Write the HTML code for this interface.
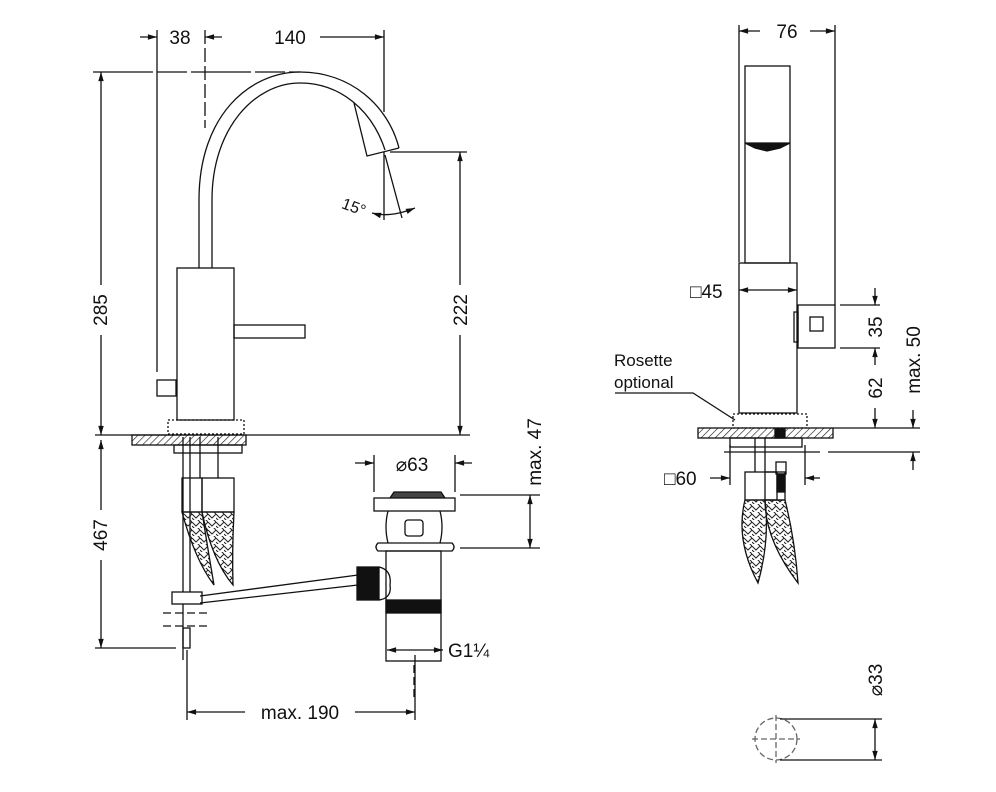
<!DOCTYPE html>
<html><head><meta charset="utf-8"><style>
html,body{margin:0;padding:0;background:#fff}
svg{display:block}
text{font-family:"Liberation Sans",sans-serif;fill:#111}
</style></head><body>
<svg width="996" height="792" viewBox="0 0 996 792" xmlns="http://www.w3.org/2000/svg">
<defs>
<pattern id="h" width="5" height="5" patternUnits="userSpaceOnUse" patternTransform="rotate(45)"><line x1="0" y1="0" x2="0" y2="5" stroke="#222" stroke-width="1.3"/></pattern>
<pattern id="br" width="8" height="8" patternUnits="userSpaceOnUse"><path d="M0 2 L4 6 L8 2 M0 6 L4 10 M4 -2 L8 2" stroke="#222" stroke-width="1" fill="none"/></pattern>
<marker id="a" viewBox="0 0 10 10" refX="10" refY="5" markerWidth="9" markerHeight="7" orient="auto-start-reverse"><path d="M0 2 L10 5 L0 8z" fill="#111"/></marker>
</defs>
<g stroke="#111" stroke-width="1.3" fill="none">
<line x1="140" y1="37" x2="157" y2="37" marker-end="url(#a)"/>
<line x1="222" y1="37" x2="205" y2="37" marker-end="url(#a)"/>
<line x1="320" y1="37" x2="384" y2="37" marker-end="url(#a)"/>
<line x1="157" y1="30" x2="157" y2="372"/>
<line x1="205" y1="30" x2="205" y2="128" stroke-dasharray="14,4"/>
<line x1="384" y1="30" x2="384" y2="112"/>
<line x1="93" y1="72" x2="300" y2="72" stroke-dasharray="60,4,30,4"/>
<line x1="101" y1="72" x2="101" y2="285" marker-start="url(#a)"/>
<line x1="101" y1="335" x2="101" y2="435" marker-end="url(#a)"/>
<line x1="390" y1="152" x2="467" y2="152"/>
<line x1="460" y1="152" x2="460" y2="285" marker-start="url(#a)"/>
<line x1="460" y1="335" x2="460" y2="435" marker-end="url(#a)"/>
<line x1="95" y1="435" x2="470" y2="435"/>
<path d="M199 268 L199 200 C199 115 250 72 300 72 C350 72 388 105 399 148"/>
<path d="M212 268 L212 200 C212 128 255 83 300 83 C340 83 372 110 385 150"/>
<path d="M354 103 L367 156 L399 148"/>
<line x1="384" y1="152" x2="384" y2="220"/>
<line x1="385" y1="155" x2="402" y2="218"/>
<path d="M372 213 Q390 218 415 208" marker-start="url(#a)" marker-end="url(#a)"/>
<rect x="177" y="268" width="57" height="152"/>
<rect x="234" y="325" width="71" height="13"/>
<rect x="157" y="380" width="19" height="16"/>
<rect x="168" y="420" width="76" height="14" stroke-dasharray="2,2"/>
<rect x="132" y="435" width="114" height="10" fill="url(#h)"/>
<rect x="174" y="445" width="68" height="8"/>
<line x1="183" y1="437" x2="183" y2="660"/><line x1="190" y1="437" x2="190" y2="600"/>
<line x1="200" y1="437" x2="200" y2="478"/><line x1="218" y1="437" x2="218" y2="478"/>
<rect x="182" y="478" width="20" height="34"/><rect x="202" y="478" width="32" height="34"/>
<path d="M182 512 L202 512 Q208 550 214 585 Q195 560 182 512z" fill="url(#br)"/>
<path d="M202 512 L234 512 Q232 550 233 585 Q212 560 202 512z" fill="url(#br)"/>
<rect x="172" y="592" width="30" height="12" fill="#fff"/>
<line x1="200" y1="596" x2="358" y2="575"/><line x1="200" y1="603" x2="358" y2="585"/>
<line x1="163" y1="613" x2="210" y2="613" stroke-dasharray="8,4"/>
<line x1="163" y1="626" x2="210" y2="626" stroke-dasharray="8,4"/>
<rect x="183" y="628" width="7" height="20"/>
<line x1="101" y1="440" x2="101" y2="510" marker-start="url(#a)"/>
<line x1="101" y1="560" x2="101" y2="648" marker-end="url(#a)"/>
<line x1="95" y1="648" x2="176" y2="648"/>
<line x1="187" y1="650" x2="187" y2="720"/>
<line x1="415" y1="655" x2="415" y2="720"/>
<line x1="187" y1="712" x2="245" y2="712" marker-start="url(#a)"/>
<line x1="355" y1="712" x2="415" y2="712" marker-end="url(#a)"/>
<line x1="355" y1="463" x2="374" y2="463" marker-end="url(#a)"/>
<line x1="472" y1="463" x2="455" y2="463" marker-end="url(#a)"/>
<line x1="374" y1="455" x2="374" y2="492"/><line x1="455" y1="455" x2="455" y2="492"/>
<path d="M390 498 L394 492 L441 492 L445 498" fill="#444"/>
<rect x="374" y="498" width="81" height="13"/>
<path d="M388 511 Q384 527 388 543 M440 511 Q444 527 440 543"/>
<rect x="405" y="520" width="18" height="16" rx="3"/>
<path d="M378 543 L452 543 Q456 547 452 551 L378 551 Q374 547 378 543z"/>
<rect x="386" y="551" width="55" height="110"/>
<rect x="386" y="600" width="55" height="13" fill="#111"/>
<rect x="357" y="567" width="22" height="33" fill="#111"/>
<path d="M379 567 Q392 570 390 585 Q392 598 379 600"/>
<line x1="460" y1="495" x2="540" y2="495"/><line x1="460" y1="548" x2="540" y2="548"/>
<line x1="530" y1="495" x2="530" y2="548" marker-start="url(#a)" marker-end="url(#a)"/>
<line x1="387" y1="650" x2="443" y2="650" marker-start="url(#a)" marker-end="url(#a)"/>
<line x1="414" y1="665" x2="414" y2="700" stroke-dasharray="8,4"/>
<line x1="739" y1="25" x2="739" y2="262"/><line x1="835" y1="25" x2="835" y2="305"/>
<line x1="739" y1="31" x2="760" y2="31" marker-start="url(#a)"/>
<line x1="810" y1="31" x2="835" y2="31" marker-end="url(#a)"/>
<rect x="745" y="66" width="45" height="197"/>
<path d="M745 143 L790 143 L780 148 L767 151 L755 148z" fill="#111"/>
<rect x="739" y="263" width="58" height="150"/>
<line x1="739" y1="290" x2="797" y2="290" marker-start="url(#a)" marker-end="url(#a)"/>
<rect x="798" y="305" width="37" height="43"/><rect x="810" y="317" width="13" height="14"/>
<rect x="794" y="312" width="4" height="30"/>
<line x1="840" y1="305" x2="880" y2="305"/><line x1="840" y1="348" x2="880" y2="348"/>
<line x1="875" y1="288" x2="875" y2="305" marker-end="url(#a)"/>
<line x1="875" y1="365" x2="875" y2="348" marker-end="url(#a)"/>
<line x1="875" y1="408" x2="875" y2="428" marker-end="url(#a)"/>
<line x1="913" y1="410" x2="913" y2="428" marker-end="url(#a)"/>
<line x1="913" y1="470" x2="913" y2="452" marker-end="url(#a)"/>
<rect x="733" y="414" width="74" height="14" stroke-dasharray="2,2"/>
<rect x="698" y="428" width="135" height="10" fill="url(#h)"/>
<line x1="833" y1="428" x2="920" y2="428"/>
<line x1="724" y1="452" x2="820" y2="452"/><line x1="828" y1="452" x2="920" y2="452"/>
<rect x="730" y="438" width="72" height="9"/>
<rect x="775" y="429" width="10" height="9" fill="#111"/>
<line x1="730" y1="445" x2="730" y2="485"/><line x1="805" y1="445" x2="805" y2="485"/>
<line x1="710" y1="478" x2="730" y2="478" marker-end="url(#a)"/>
<line x1="820" y1="478" x2="805" y2="478" marker-end="url(#a)"/>
<line x1="755" y1="438" x2="755" y2="472"/><line x1="765" y1="438" x2="765" y2="472"/>
<rect x="776" y="462" width="10" height="12"/><rect x="777" y="474" width="8" height="18" fill="#111"/>
<rect x="745" y="472" width="32" height="28"/><rect x="765" y="472" width="20" height="28"/>
<path d="M745 500 L765 500 Q770 540 758 583 Q735 540 745 500z" fill="url(#br)"/>
<path d="M765 500 L785 500 Q795 540 798 583 Q765 540 765 500z" fill="url(#br)"/>
<path d="M615 393 L693 393 L735 420"/>
<circle cx="776" cy="739" r="21" stroke-dasharray="6,3" stroke="#666"/>
<line x1="752" y1="739" x2="800" y2="739" stroke-dasharray="6,3" stroke="#666"/>
<line x1="776" y1="715" x2="776" y2="763" stroke-dasharray="6,3" stroke="#666"/>
<line x1="780" y1="719" x2="882" y2="719"/><line x1="780" y1="760" x2="882" y2="760"/>
<line x1="875" y1="719" x2="875" y2="760" marker-start="url(#a)" marker-end="url(#a)"/>
</g>
<g font-size="19">
<text x="180" y="44" text-anchor="middle">38</text>
<text x="290" y="44" text-anchor="middle">140</text>
<text x="107" y="310" transform="rotate(-90 107 310)" text-anchor="middle">285</text>
<text x="467" y="310" transform="rotate(-90 467 310)" text-anchor="middle">222</text>
<text x="107" y="535" transform="rotate(-90 107 535)" text-anchor="middle">467</text>
<text x="352" y="212" transform="rotate(20 352 212)" text-anchor="middle" font-size="16">15°</text>
<text x="300" y="719" text-anchor="middle">max. 190</text>
<text x="412" y="471" text-anchor="middle">⌀63</text>
<text x="541" y="452" transform="rotate(-90 541 452)" text-anchor="middle">max. 47</text>
<text x="448" y="657">G1¼</text>
<text x="787" y="38" text-anchor="middle">76</text>
<text x="690" y="298">□45</text>
<text x="664" y="485">□60</text>
<text x="882" y="327" transform="rotate(-90 882 327)" text-anchor="middle">35</text>
<text x="882" y="388" transform="rotate(-90 882 388)" text-anchor="middle">62</text>
<text x="920" y="360" transform="rotate(-90 920 360)" text-anchor="middle">max. 50</text>
<text x="882" y="680" transform="rotate(-90 882 680)" text-anchor="middle">⌀33</text>
<text x="614" y="366" font-family="Liberation Mono,monospace" font-size="17">Rosette</text>
<text x="614" y="388" font-family="Liberation Mono,monospace" font-size="17">optional</text>
</g>
</svg>
</body></html>
